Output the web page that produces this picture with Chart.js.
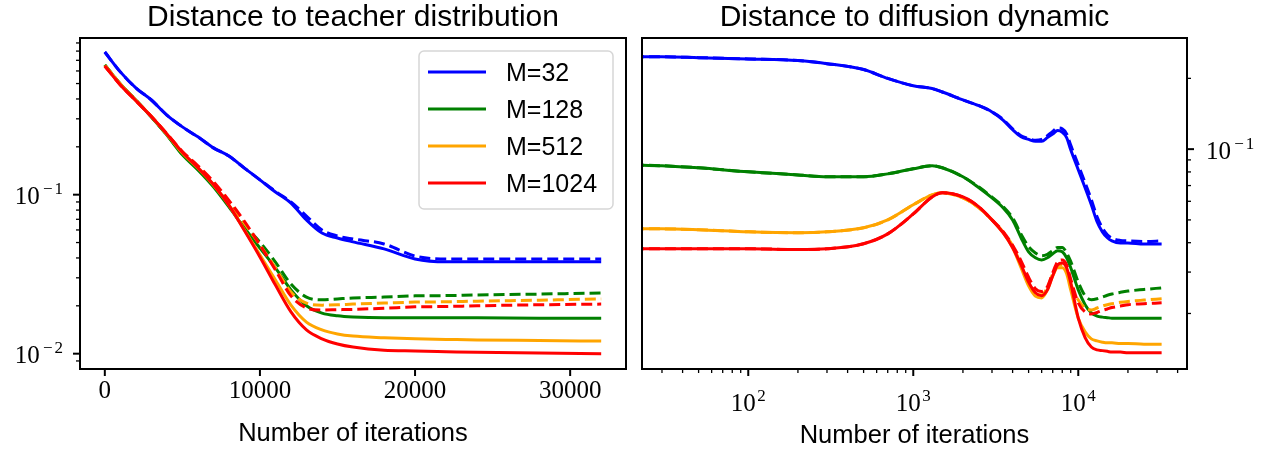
<!DOCTYPE html>
<html>
<head>
<meta charset="utf-8">
<script src="https://cdn.jsdelivr.net/npm/chart.js@4.4.0/dist/chart.umd.min.js"></script>
<style>
  html, body { margin: 0; padding: 0; background: #fff; }
  #wrap { position: relative; width: 1273px; height: 454px; overflow: hidden; }
  canvas { position: absolute; top: 0; }
</style>
</head>
<body>
<div id="wrap">
  <canvas id="left" width="634" height="454" style="left:0px"></canvas>
  <canvas id="right" width="639" height="454" style="left:634px"></canvas>
</div>
<script>
// ---- data: left panel (linear iterations) ----
const leftIters = [0, 1000, 2000, 3000, 4000, 5000, 6000, 7000, 8000, 9000, 10000, 11000, 12000,
  13000, 14000, 15000, 16000, 18000, 20000, 22000, 24000, 28000, 32000];

const leftM32 = [0.789, 0.592, 0.469, 0.394, 0.317, 0.267, 0.231, 0.197, 0.175, 0.147, 0.124, 0.104, 0.0886,
  0.0693, 0.0574, 0.0534, 0.0505, 0.0456, 0.0394, 0.0378, 0.0378, 0.0378, 0.0378];
const leftM32Dash = [0.789, 0.592, 0.469, 0.394, 0.317, 0.267, 0.231, 0.197, 0.175, 0.147, 0.124, 0.105, 0.090,
  0.0734, 0.0599, 0.055, 0.0526, 0.049, 0.0411, 0.0394, 0.0394, 0.0394, 0.0394];
const leftM128 = [0.655, 0.497, 0.394, 0.308, 0.237, 0.178, 0.143, 0.112, 0.0837, 0.0617, 0.0462, 0.0346, 0.0252,
  0.0200, 0.0180, 0.0173, 0.0170, 0.0168, 0.0168, 0.0168, 0.0168, 0.0167, 0.0167];
const leftM128Dash = [0.655, 0.497, 0.394, 0.308, 0.238, 0.180, 0.146, 0.116, 0.0880, 0.0643, 0.0503, 0.0377, 0.0274,
  0.0227, 0.0218, 0.0221, 0.0224, 0.0227, 0.0231, 0.0232, 0.0234, 0.0237, 0.0241];
const leftM512 = [0.650, 0.495, 0.392, 0.310, 0.240, 0.183, 0.147, 0.115, 0.0860, 0.0600, 0.0418, 0.0291, 0.0202,
  0.0158, 0.0141, 0.0133, 0.0129, 0.0126, 0.0124, 0.0123, 0.0122, 0.0121, 0.0120];
const leftM512Dash = [0.650, 0.495, 0.392, 0.310, 0.241, 0.185, 0.150, 0.119, 0.0900, 0.0660, 0.0483, 0.0346, 0.0244,
  0.0208, 0.0202, 0.0203, 0.0205, 0.0208, 0.0211, 0.0212, 0.0214, 0.0217, 0.0221];
const leftM1024 = [0.645, 0.490, 0.390, 0.310, 0.241, 0.185, 0.148, 0.116, 0.0860, 0.0595, 0.0406, 0.0270, 0.0183,
  0.0141, 0.0124, 0.0115, 0.0110, 0.0105, 0.0104, 0.0103, 0.0102, 0.0101, 0.0100];
const leftM1024Dash = [0.645, 0.490, 0.390, 0.310, 0.242, 0.187, 0.152, 0.121, 0.0920, 0.0680, 0.0483, 0.0336, 0.0231,
  0.0194, 0.0188, 0.0189, 0.0190, 0.0193, 0.0197, 0.0198, 0.0200, 0.0203, 0.0205];

// ---- data: right panel (log iterations) ----
const rightIters = [20, 30, 50, 100, 200, 300, 500, 700, 1000, 1300, 1500, 2000, 2500, 3000, 3500, 4000, 4500,
  5000, 5500, 6000, 6500, 7000, 7500, 8000, 8500, 9000, 10000, 11000, 12000, 13000, 14000, 15000, 16000,
  18000, 20000, 25000, 32000];

const rightM32 = [0.247, 0.247, 0.245, 0.242, 0.238, 0.231, 0.218, 0.200, 0.186, 0.181, 0.175, 0.162, 0.153, 0.144,
  0.133, 0.121, 0.113, 0.110, 0.108, 0.108, 0.112, 0.116, 0.120, 0.118, 0.112, 0.0993, 0.0817, 0.0685, 0.0580,
  0.0491, 0.0445, 0.0420, 0.0407, 0.0399, 0.0399, 0.0395, 0.0395];
const rightM32Dash = [0.247, 0.247, 0.245, 0.242, 0.238, 0.231, 0.218, 0.200, 0.186, 0.181, 0.175, 0.162, 0.153, 0.144,
  0.134, 0.122, 0.114, 0.111, 0.109, 0.110, 0.114, 0.119, 0.123, 0.122, 0.116, 0.104, 0.0857, 0.0720, 0.0610,
  0.0515, 0.0462, 0.0432, 0.0418, 0.0409, 0.0407, 0.0405, 0.0407];
const rightM128 = [0.0857, 0.0850, 0.0833, 0.0801, 0.0777, 0.0763, 0.0763, 0.0785, 0.0825, 0.0850, 0.0833, 0.0763,
  0.0685, 0.0620, 0.0563, 0.0500, 0.0420, 0.0366, 0.0345, 0.0338, 0.0345, 0.0359, 0.0370, 0.0366, 0.0345, 0.0313,
  0.0252, 0.0218, 0.0201, 0.0195, 0.0193, 0.0192, 0.0191, 0.0191, 0.0191, 0.0191, 0.0191];
const rightM128Dash = [0.0857, 0.0850, 0.0833, 0.0801, 0.0777, 0.0763, 0.0763, 0.0785, 0.0825, 0.0850, 0.0833, 0.0763,
  0.0690, 0.0625, 0.0570, 0.0510, 0.0435, 0.0385, 0.0362, 0.0352, 0.0357, 0.0370, 0.0382, 0.0382, 0.0362, 0.0333,
  0.0272, 0.0238, 0.0229, 0.0231, 0.0235, 0.0239, 0.0242, 0.0246, 0.0249, 0.0253, 0.0257];
const rightM512 = [0.0458, 0.0458, 0.0454, 0.0445, 0.0441, 0.0445, 0.0463, 0.0500, 0.0580, 0.0639, 0.0652, 0.0620,
  0.0563, 0.0500, 0.0441, 0.0381, 0.0313, 0.0262, 0.0237, 0.0233, 0.0252, 0.0289, 0.0313, 0.0313, 0.0295, 0.0252,
  0.0191, 0.0167, 0.0156, 0.0153, 0.0151, 0.0150, 0.0150, 0.0149, 0.0149, 0.0148, 0.0148];
const rightM512Dash = [0.0458, 0.0458, 0.0454, 0.0445, 0.0441, 0.0445, 0.0463, 0.0500, 0.0580, 0.0639, 0.0652, 0.0620,
  0.0563, 0.0500, 0.0445, 0.0388, 0.0322, 0.0270, 0.0245, 0.0240, 0.0258, 0.0295, 0.0320, 0.0322, 0.0305, 0.0268,
  0.0228, 0.0211, 0.0207, 0.0211, 0.0215, 0.0218, 0.0220, 0.0223, 0.0225, 0.0228, 0.0231];
const rightM1024 = [0.0377, 0.0377, 0.0377, 0.0377, 0.0374, 0.0377, 0.0396, 0.0436, 0.0530, 0.0626, 0.0652, 0.0626,
  0.0568, 0.0500, 0.0441, 0.0381, 0.0322, 0.0272, 0.0245, 0.0238, 0.0252, 0.0289, 0.0322, 0.0328, 0.0313, 0.0270,
  0.0191, 0.0158, 0.0144, 0.0140, 0.0139, 0.0138, 0.0137, 0.0137, 0.0136, 0.0136, 0.0136];
const rightM1024Dash = [0.0377, 0.0377, 0.0377, 0.0377, 0.0374, 0.0377, 0.0396, 0.0436, 0.0530, 0.0626, 0.0652, 0.0626,
  0.0568, 0.0500, 0.0447, 0.0390, 0.0335, 0.0285, 0.0255, 0.0248, 0.0260, 0.0298, 0.0332, 0.0338, 0.0322, 0.0280,
  0.0222, 0.0203, 0.0199, 0.0202, 0.0206, 0.0209, 0.0212, 0.0215, 0.0218, 0.0220, 0.0222];

const seriesLabels = ["M=32", "M=128", "M=512", "M=1024"];
const seriesColors = ["#0000ff", "#008000", "#ffa500", "#ff0000"];

const leftXTicks = [0, 10000, 20000, 30000];
const leftYTicks = [0.01, 0.1];
const rightXTicks = [100, 1000, 10000];
const rightYTicks = [0.1];

const titles = ["Distance to teacher distribution", "Distance to diffusion dynamic"];
const xTitle = "Number of iterations";

const SERIF = '"Liberation Serif", "DejaVu Serif", serif';
const SANS = '"Liberation Sans", Arial, sans-serif';

function minorLog(min, max) {
  const out = [];
  for (let e = Math.floor(Math.log10(min)); e <= Math.ceil(Math.log10(max)); e++) {
    for (let m = 2; m <= 9; m++) {
      const v = m * Math.pow(10, e);
      if (v >= min && v <= max) out.push(v);
    }
  }
  return out;
}

// "10" with a raised exponent, like the mathtext labels (wide TeX minus)
function drawPow(ctx, v, x, y, align) {
  const e = Math.round(Math.log10(v));
  const BASE = 25, SUP = 17;
  ctx.font = BASE + "px " + SERIF;
  const wb = ctx.measureText("10").width;
  ctx.font = SUP + "px " + SERIF;
  const digits = String(Math.abs(e));
  const wd = ctx.measureText(digits).width;
  const wm = e < 0 ? SUP * 0.78 : 0;
  const w = wb + 1.5 + wm + wd;
  const x0 = align === "right" ? x - w : align === "center" ? x - w / 2 : x;
  ctx.textAlign = "left";
  ctx.font = BASE + "px " + SERIF;
  ctx.fillText("10", x0, y);
  ctx.font = SUP + "px " + SERIF;
  let xe = x0 + wb + 1.5;
  if (e < 0) {
    ctx.textAlign = "center";
    ctx.fillText("\u2212", xe + wm / 2, y - 10);
    ctx.textAlign = "left";
    xe += wm;
  }
  ctx.fillText(digits, xe, y - 10);
}

const frame = {
  id: "frame",
  afterDraw(chart, args, o) {
    const ctx = chart.ctx, a = chart.chartArea;
    const xs = chart.scales.x, ys = chart.scales.y;
    ctx.save();
    ctx.fillStyle = "#000";
    ctx.strokeStyle = "#000";
    ctx.textBaseline = "alphabetic";

    const tick = (x1, y1, x2, y2, w) => {
      ctx.lineWidth = w;
      ctx.beginPath(); ctx.moveTo(x1, y1); ctx.lineTo(x2, y2); ctx.stroke();
    };
    o.xMajor.forEach(v => {
      const px = xs.getPixelForValue(v);
      tick(px, a.bottom, px, a.bottom + 7, 2);
      if (o.xLog) drawPow(ctx, v, px, a.bottom + 42, "center");
      else {
        ctx.font = "25px " + SERIF; ctx.textAlign = "center";
        ctx.fillText(String(v), px, a.bottom + 29);
      }
    });
    o.xMinor.forEach(v => {
      const px = xs.getPixelForValue(v);
      tick(px, a.bottom, px, a.bottom + 4, 1.3);
    });
    const yr = o.yRight;
    o.yMajor.forEach(v => {
      const py = ys.getPixelForValue(v);
      if (yr) { tick(a.right, py, a.right + 7, py, 2); drawPow(ctx, v, a.right + 19, py + 9.5, "left"); }
      else { tick(a.left - 7, py, a.left, py, 2); drawPow(ctx, v, a.left - 17, py + 9, "right"); }
    });
    o.yMinor.forEach(v => {
      const py = ys.getPixelForValue(v);
      if (yr) tick(a.right, py, a.right + 4, py, 1.3);
      else tick(a.left - 4, py, a.left, py, 1.3);
    });

    // axes frame
    ctx.lineWidth = 2;
    ctx.strokeRect(a.left, a.top, a.right - a.left, a.bottom - a.top);

    // titles
    const cx = (a.left + a.right) / 2;
    ctx.textAlign = "center";
    ctx.font = "30px " + SANS;
    ctx.fillText(o.title, cx, 26);
    ctx.font = "25.5px " + SANS;
    ctx.fillText(xTitle, cx, o.xLog ? 443 : 441);

    // legend box
    if (o.legend) {
      const lx = 419, ly = 51, lw = 194, lh = 158, r = 5;
      ctx.beginPath();
      ctx.moveTo(lx + r, ly);
      ctx.arcTo(lx + lw, ly, lx + lw, ly + lh, r);
      ctx.arcTo(lx + lw, ly + lh, lx, ly + lh, r);
      ctx.arcTo(lx, ly + lh, lx, ly, r);
      ctx.arcTo(lx, ly, lx + lw, ly, r);
      ctx.closePath();
      ctx.fillStyle = "rgba(255,255,255,0.8)";
      ctx.fill();
      ctx.strokeStyle = "#d6d6d6";
      ctx.lineWidth = 1.5;
      ctx.stroke();
      seriesLabels.forEach((lab, i) => {
        const y = 72 + i * 37;
        ctx.strokeStyle = seriesColors[i];
        ctx.lineWidth = 3;
        ctx.beginPath(); ctx.moveTo(428, y); ctx.lineTo(486, y); ctx.stroke();
        ctx.fillStyle = "#000";
        ctx.textAlign = "left";
        ctx.font = "25px " + SANS;
        ctx.fillText(lab, 506, y + 9);
      });
    }
    ctx.restore();
  }
};

function line(xs, ys, color, dashed, order) {
  return {
    data: xs.map((x, i) => ({ x: x, y: ys[i] })),
    borderColor: color,
    borderWidth: 3,
    borderDash: dashed ? [11, 5] : [],
    pointRadius: 0,
    cubicInterpolationMode: "monotone",
    fill: false,
    order: order
  };
}

function makeChart(id, datasets, xScale, yScale, pad, frameOpts) {
  return new Chart(document.getElementById(id), {
    type: "line",
    data: { datasets: datasets },
    options: {
      responsive: false,
      animation: false,
      devicePixelRatio: 1,
      parsing: false,
      layout: { padding: pad },
      plugins: { legend: { display: false }, tooltip: { enabled: false }, frame: frameOpts },
      scales: { x: xScale, y: yScale }
    },
    plugins: [frame]
  });
}

const hidden = { grid: { display: false }, border: { display: false }, ticks: { display: false } };

// left panel
const lMin = 0.00801, lMax = 0.967;
makeChart("left", [
  line(leftIters, leftM32, seriesColors[0], false, 8),
  line(leftIters, leftM32Dash, seriesColors[0], true, 7),
  line(leftIters, leftM128, seriesColors[1], false, 6),
  line(leftIters, leftM128Dash, seriesColors[1], true, 5),
  line(leftIters, leftM512, seriesColors[2], false, 4),
  line(leftIters, leftM512Dash, seriesColors[2], true, 3),
  line(leftIters, leftM1024, seriesColors[3], false, 2),
  line(leftIters, leftM1024Dash, seriesColors[3], true, 1)
],
  Object.assign({ type: "linear", min: -1600, max: 33600, afterFit: s => { s.height = 85; } }, hidden),
  Object.assign({ type: "logarithmic", min: lMin, max: lMax, position: "left", afterFit: s => { s.width = 80; } }, hidden),
  { top: 38, right: 8, left: 0, bottom: 0 },
  { title: titles[0], xLog: false, xMajor: leftXTicks, xMinor: [], yMajor: leftYTicks, yMinor: minorLog(lMin, lMax), yRight: false, legend: true }
);

// right panel
const rxMin = 22.7, rxMax = 45600, ryMin = 0.01161, ryMax = 0.297;
makeChart("right", [
  line(rightIters, rightM32, seriesColors[0], false, 8),
  line(rightIters, rightM32Dash, seriesColors[0], true, 7),
  line(rightIters, rightM128, seriesColors[1], false, 6),
  line(rightIters, rightM128Dash, seriesColors[1], true, 5),
  line(rightIters, rightM512, seriesColors[2], false, 4),
  line(rightIters, rightM512Dash, seriesColors[2], true, 3),
  line(rightIters, rightM1024, seriesColors[3], false, 2),
  line(rightIters, rightM1024Dash, seriesColors[3], true, 1)
],
  Object.assign({ type: "logarithmic", min: rxMin, max: rxMax, afterFit: s => { s.height = 85; } }, hidden),
  Object.assign({ type: "logarithmic", min: ryMin, max: ryMax, position: "right", afterFit: s => { s.width = 86; } }, hidden),
  { top: 38, right: 0, left: 8, bottom: 0 },
  { title: titles[1], xLog: true, xMajor: rightXTicks, xMinor: minorLog(rxMin, rxMax), yMajor: rightYTicks, yMinor: minorLog(ryMin, ryMax), yRight: true, legend: false }
);
</script>
</body>
</html>
